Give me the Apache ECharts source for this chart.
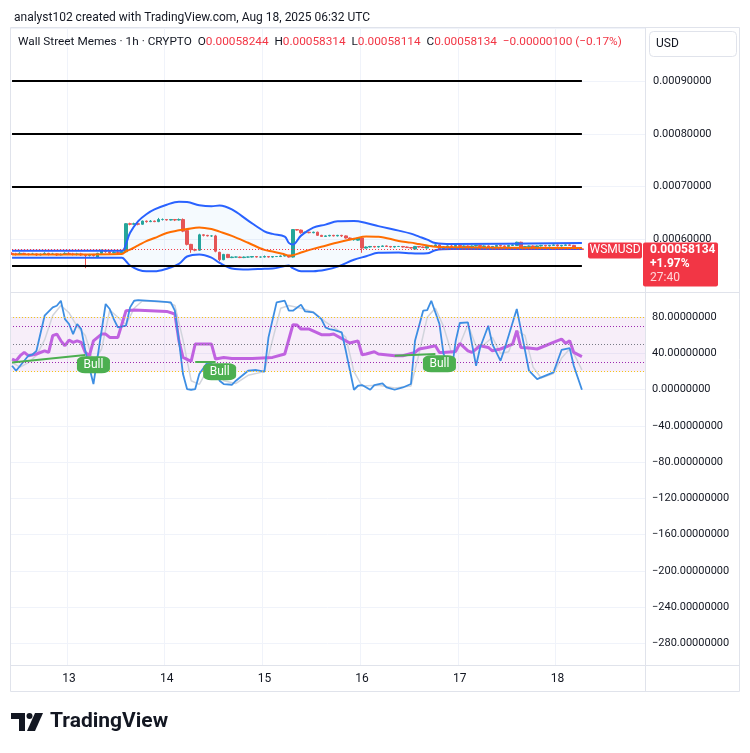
<!DOCTYPE html>
<html>
<head>
<meta charset="utf-8" />
<title>WSMUSD 1h</title>
<style>
  html, body { margin: 0; padding: 0; background: #fff; }
  #chartBox { width: 750px; height: 753px; }
</style>
</head>
<body>
<div id="chartBox"></div>
<script src="https://cdn.jsdelivr.net/npm/echarts@6/dist/echarts.min.js"></script>
<script>
// hourly bars, first bar 2025-08-12 10:00 UTC
var startTime = Date.UTC(2025, 7, 12, 10);
var emptySlots = 15;          // empty bars on the right side of the chart
var PRICE_UNIT = 1e-6;        // prices below are in micro USD

// [open, close, low, high]
var candles = [
  [574,573,571,576],[573,572,570,575],[572,574,571,576],[574,573,571,575],[573,572,570,574],
  [572,573,571,575],[573,571,569,574],[571,572,570,574],[572,574,571,576],[574,572,570,575],
  [572,573,571,575],[573,571,569,574],[571,572,570,574],[572,574,571,576],[574,573,571,576],
  [573,572,570,575],[572,573,570,575],[573,571,569,575],[571,570,546,573],[570,571,568,573],
  [571,570,568,573],[566,574,565,575],[574,580,573,581],[580,577,575,582],[577,575,573,579],
  [575,576,574,578],[576,575,573,578],[575,577,573,578],[577,630,576,631],[630,629,627,632],
  [629,630,628,632],[630,629,627,631],[629,635,628,636],[635,634,632,636],[634,635,633,637],
  [635,634,633,636],[634,638,633,641],[638,638,636,640],[638,637,636,639],[637,638,636,639],
  [638,637,635,639],[637,638,636,640],[638,616,614,640],[617,591,589,619],[591,581,575,592],
  [581,580,578,583],[580,609,579,611],[609,608,606,610],[608,607,606,609],[607,607,605,608],
  [607,578,576,609],[576,562,559,577],[562,572,561,573],[572,566,565,573],[566,567,565,568],
  [567,567,566,568],[567,566,565,568],[566,567,565,568],[567,567,566,568],[567,568,566,569],
  [568,567,566,569],[567,567,566,568],[567,568,566,570],[568,567,566,569],[567,568,566,569],
  [568,568,567,569],[568,569,567,570],[569,570,568,571],[570,567,566,571],[567,619,566,620],
  [619,618,617,620],[618,613,611,619],[613,614,612,615],[614,613,612,615],[613,614,612,615],
  [614,608,607,615],[608,606,605,609],[606,607,605,608],[607,608,606,609],[608,607,606,609],
  [607,608,606,609],[608,607,605,609],[607,603,602,608],[603,600,599,604],[600,600,598,601],
  [599,603,598,604],[603,584,575,604],[584,586,583,587],[586,587,585,588],[587,586,585,588],
  [586,587,585,588],[587,588,586,589],[588,587,586,589],[587,586,585,588],[586,587,585,588],
  [587,587,586,588],[587,586,585,588],[586,585,584,587],[585,584,583,586],[582,587,581,588],
  [587,586,585,588],[586,585,584,587],[584,587,583,588],[587,588,586,589],[588,590,587,591],
  [590,583,582,591],[583,586,582,587],[586,588,585,589],[588,587,586,590],[587,589,586,590],
  [589,587,586,590],[587,588,586,589],[588,586,585,589],[586,588,585,589],[588,589,587,590],
  [589,587,586,590],[587,588,586,589],[588,586,585,589],[586,587,585,588],[587,589,586,590],
  [589,588,587,590],[588,587,586,589],[587,589,586,590],[589,590,588,591],[589,595,588,596],
  [595,584,583,596],[584,587,583,588],[587,588,586,589],[588,586,585,589],[586,588,585,589],
  [588,589,587,590],[589,588,587,590],[588,589,587,590],[589,590,588,591],[590,588,587,591],
  [588,589,587,590],[589,590,588,591],[590,589,588,591],[589,583,582,590],[583,582.34,581,584],
  [582.44,581.34,581.14,583.14]
];

// horizontal levels drawn on the price pane
var levels = [900, 800, 700, 550];

// Bollinger bands (bar index -> price)
var bbIdx   = [0,   27,  28,  29,  31,  33,  35,  38,  41,    43,  46,  49,  51,    54,  58,  62,    64,    67,    68,    69,    71,    74,    77,    80,    84,  87,    90,    95,  98,    100,   102, 104,   108,   140];
var bbUpper = [579, 579, 592, 613, 635, 648, 657, 666, 671.5, 671, 665, 663, 664.5, 657, 636, 615.7, 610.8, 605.7, 593.8, 590.6, 607.5, 622.6, 628.3, 634.5, 635, 631.5, 625.5, 617, 611.3, 605.7, 600, 593.4, 591.5, 593.4];
var bbMid   = [571.7, 573, 578, 581, 589, 597, 603, 612.6, 617.5, 620, 623, 620, 615, 607, 594, 580.5, 577.5, 572, 570, 570.5, 575.5, 582.5, 588.5, 594.5, 601.5, 606, 605.5, 597.5, 594.3, 591.5, 589, 586.5, 585.5, 584];
var bbLower = [565.5, 565.5, 559, 551, 543, 540, 540, 545, 554, 568, 572, 566, 556, 545.5, 543.4, 545, 545.3, 550, 550.9, 546, 540.2, 540.2, 543, 549, 562, 568.5, 575, 575.5, 574, 573.6, 574, 580, 582, 582];

// oscillator pane: [bar index, value]
var rsi = [[0,33.9],[1,32],[2,37.6],[3,41.2],[4,37.6],[6,39.5],[8,43],[9,41.2],[10,59.7],[11,61.5],
  [12,54],[13,48.6],[14,54.9],[15,52.3],[16,54],[17,52.3],[18,41.2],[19,37.6],[20,54],[22,61.5],
  [23,61.5],[24,57.8],[26,57.8],[28,87.3],[30,88],[34,87.3],[38,86.5],[40,83.6],[41,54],[42,35.7],
  [44,31.3],[45,50.5],[49,50.5],[50,33.9],[52,35.7],[54,34.6],[59,34.6],[64,35.7],[67,39.5],[69,71.8],
  [70,71.5],[71,67],[73,67],[76,60.8],[78,60.8],[79,61.5],[82,54],[83,51.6],[85,54],[86,38.7],
  [87,39.5],[89,42],[90,39.5],[94,37.6],[96,37.6],[99,41.2],[100,45],[102,46.7],[104,48.6],[105,41.2],
  [106,41.2],[109,42.3],[110,51.2],[112,43],[113,41.2],[115,48.6],[117,46.7],[118,43],[120,45],[122,48.6],
  [123,50.5],[124,65.2],[125,46.7],[127,46],[129,45],[131,48.6],[133,52.3],[135,56],[136,51.2],[137,54],
  [138,41.2],[140,36.5]];
var stochK = [[0,26.5],[1,21],[2,26.5],[4,37.6],[5,38.7],[6,43],[8,81.8],[10,91],[11,92.8],[12,98.3],
  [13,78],[14,72.6],[15,61.5],[16,72.6],[17,67],[18,43],[19,24.6],[20,6.3],[21,35.7],[23,94.7],
  [24,89.2],[25,78],[26,68.8],[28,70.7],[29,91],[30,98.3],[31,99],[36,97.6],[39,96.5],[40,87.3],
  [41,54.1],[42,17.3],[43,0.8],[44,0],[45,0.8],[46,17.3],[48,30.2],[49,28.4],[50,20],[51,10],
  [52,6.3],[54,5.5],[55,10],[58,21],[60,21.8],[62,19.9],[63,57.8],[65,96.5],[67,98.3],[68,87.3],
  [69,87.3],[71,94],[72,86.5],[74,85.4],[76,78],[77,68.8],[78,67],[79,66],[81,63.3],[82,43],
  [84,0],[85,4.4],[86,5.2],[88,0],[89,5.2],[91,7],[92,2.5],[94,0],[96,2.5],[98,6.3],
  [99,54],[101,87.3],[102,88],[103,98.3],[105,72.6],[106,39.5],[108,21],[109,54],[110,73.7],[112,74.4],
  [114,26.5],[115,46.7],[117,70.7],[118,50.5],[120,32],[121,45],[124,89.2],[125,67],[127,21],[129,11.8],
  [130,13.6],[133,19.1],[135,43.9],[137,46],[138,26.5],[140,0]];
var stochD = [[0,30],[2,25],[4,30],[6,38],[8,55],[10,82],[12,93],[14,85],[16,70],[18,60],
  [20,30],[22,45],[24,88],[26,80],[28,72],[30,90],[32,98],[38,97],[40,93],[42,55],
  [44,10],[46,6],[48,22],[50,25],[52,10],[55,7],[58,16],[62,20],[64,55],[66,90],
  [68,93],[71,90],[74,86],[77,75],[80,66],[82,58],[84,20],[86,4],[90,5],[94,2],
  [98,4],[100,40],[102,80],[104,90],[106,70],[108,40],[110,50],[112,72],[114,48],[116,50],
  [118,58],[120,40],[122,42],[124,65],[126,60],[128,25],[130,13],[133,18],[135,35],[137,45],
  [138,40],[140,22]];
var bullLines = [[[0, 30.2], [18, 38.3]], [[45, 31], [50, 31]], [[94, 37.6], [104, 39.5]]];
var bullMarks = [[20, 27.6], [51, 19.9], [105, 28.7]];
var oscTicks = [80, 40, 0, -40, -80, -120, -160, -200, -240, -280];
var oscBands = { upper: 80, lower: 20, rsiUpper: 70, rsiLower: 30, mid: 50 };

// -------------------------------------------------------------------
var font = 'Roboto, "Noto Sans", sans-serif';
var txt = '#131722', gridCol = '#f0f3fa', frameCol = '#e0e3eb';
var upCol = '#26a69a', downCol = '#ef5350', tvRed = '#f23645';

function pad(n) { return (n < 10 ? '0' : '') + n; }
var hours = [];
for (var i = 0; i < candles.length + emptySlots; i++) {
  var d = new Date(startTime + i * 3600e3);
  hours.push(d.getUTCFullYear() + '-' + pad(d.getUTCMonth() + 1) + '-' + pad(d.getUTCDate()) + ' ' + pad(d.getUTCHours()) + ':00');
}
function isMidnight(i, v) { return v.slice(11, 13) === '00'; }
function p8(v) { return (v * PRICE_UNIT).toFixed(8); }
function minus(s) { return s.replace('-', '\u2212'); }

var bbPairs = function (arr) { return bbIdx.map(function (x, i) { return [x, arr[i]]; }); };
var bbWidth = bbIdx.map(function (x, i) { return [x, bbUpper[i] - bbLower[i]]; });

var last = candles[candles.length - 1], prev = candles[candles.length - 2];

function levelLines() {
  var out = levels.map(function (v) {
    return [{ coord: [0, v] }, { coord: [candles.length - 1, v], lineStyle: { color: '#000', width: 2, type: 'solid' } }];
  });
  out.push([{ coord: [0, last[1]] }, { coord: [candles.length - 1, last[1]], lineStyle: { color: tvRed, width: 1, type: [1, 2] } }]);
  return out;
}

function oscLine(v, color) {
  return { yAxis: v, lineStyle: { color: color, width: 1, type: [1, 2] } };
}

var chart = echarts.init(document.getElementById('chartBox'));
var option = {
  backgroundColor: '#fff',
  animation: false,
  title: {
    text: 'analyst102 created with TradingView.com, Aug 18, 2025 06:32 UTC',
    left: 9, top: 7,
    textStyle: { fontSize: 12, fontWeight: 'normal', color: txt, fontFamily: font }
  },
  grid: [
    { left: 10, right: 105, top: 28, height: 264.5 },
    { left: 10, right: 105, top: 292.5, height: 372.5 }
  ],
  xAxis: [{
    type: 'category', gridIndex: 0, data: hours, boundaryGap: true,
    axisLine: { show: false }, axisTick: { show: false }, axisLabel: { show: false },
    splitLine: { show: true, interval: isMidnight, lineStyle: { color: gridCol } }
  }, {
    type: 'category', gridIndex: 1, data: hours, boundaryGap: true,
    axisLine: { show: false }, axisTick: { show: false },
    axisLabel: {
      interval: isMidnight, margin: 8, color: txt, fontSize: 12, fontFamily: font,
      formatter: function (v) { return String(+v.slice(8, 10)); }
    },
    splitLine: { show: true, interval: isMidnight, lineStyle: { color: gridCol } }
  }],
  yAxis: [{
    type: 'value', gridIndex: 0, position: 'right', min: 500, max: 1000, interval: 100,
    axisLine: { show: false }, axisTick: { show: false },
    axisLabel: {
      margin: 8, color: txt, fontSize: 11, fontFamily: font,
      formatter: function (v) { return (v === 500 || v === 1000) ? '' : p8(v); }
    },
    splitLine: { lineStyle: { color: gridCol } }
  }, {
    type: 'value', gridIndex: 1, position: 'right', min: -304, max: 107.4,
    axisLine: { show: false },
    axisTick: { show: false, customValues: oscTicks },
    axisLabel: {
      customValues: oscTicks, margin: 7, color: txt, fontSize: 11, fontFamily: font,
      formatter: function (v) { return minus(v.toFixed(8)); }
    },
    splitLine: { lineStyle: { color: gridCol } }
  }],
  series: [{
    name: 'bbBase', type: 'line', data: bbPairs(bbLower), stack: 'bb', smooth: 0.35,
    symbol: 'none', lineStyle: { opacity: 0 }, silent: true
  }, {
    name: 'bbFill', type: 'line', data: bbWidth, stack: 'bb', smooth: 0.35,
    symbol: 'none', lineStyle: { opacity: 0 }, areaStyle: { color: 'rgba(33,150,243,0.06)' }, silent: true
  }, {
    name: 'upper', type: 'line', data: bbPairs(bbUpper), smooth: 0.35, symbol: 'none',
    lineStyle: { color: '#2962ff', width: 2 }, silent: true
  }, {
    name: 'lower', type: 'line', data: bbPairs(bbLower), smooth: 0.35, symbol: 'none',
    lineStyle: { color: '#2962ff', width: 2 }, silent: true
  }, {
    name: 'basis', type: 'line', data: bbPairs(bbMid), smooth: 0.35, symbol: 'none',
    lineStyle: { color: '#ff6d00', width: 2 }, silent: true
  }, {
    name: 'WSMUSD', type: 'candlestick', data: candles, barWidth: 3,
    itemStyle: { color: upCol, color0: downCol, borderColor: upCol, borderColor0: downCol, borderWidth: 1 },
    markLine: { silent: true, symbol: 'none', label: { show: false }, data: levelLines() }
  }, {
    name: 'RSI', type: 'line', xAxisIndex: 1, yAxisIndex: 1, data: rsi, symbol: 'none',
    lineStyle: { color: '#c062e0', width: 3 }, z: 3,
    markArea: {
      silent: true, itemStyle: { color: 'rgba(156,39,176,0.08)' },
      data: [[{ yAxis: oscBands.lower }, { yAxis: oscBands.upper }]]
    },
    markLine: {
      silent: true, symbol: 'none', label: { show: false },
      data: [
        oscLine(oscBands.upper, '#f5c518'), oscLine(oscBands.lower, '#f5c518'),
        oscLine(oscBands.rsiUpper, '#9c27b0'), oscLine(oscBands.rsiLower, '#9c27b0'),
        oscLine(oscBands.mid, '#787b86')
      ].concat(bullLines.map(function (s) {
        return [{ coord: s[0] }, { coord: s[1], lineStyle: { color: '#4caf50', width: 2, type: 'solid' } }];
      }))
    }
  }, {
    name: 'D', type: 'line', xAxisIndex: 1, yAxisIndex: 1, data: stochD, symbol: 'none',
    lineStyle: { color: '#d1d4dc', width: 1.5 }, z: 2
  }, {
    name: 'K', type: 'line', xAxisIndex: 1, yAxisIndex: 1, data: stochK, symbol: 'none',
    lineStyle: { color: '#3d8ee3', width: 1.8 }, z: 4
  }, {
    name: 'bull', type: 'scatter', xAxisIndex: 1, yAxisIndex: 1, data: bullMarks,
    symbol: 'roundRect', symbolSize: [33, 17], z: 6,
    itemStyle: { color: '#4caf50', opacity: 1 },
    label: { show: true, position: 'inside', formatter: 'Bull', color: '#fff', fontSize: 12, fontFamily: font }
  }]
};
chart.setOption(option);

// overlays: frame, legend, price tags, logo
var tagY = chart.convertToPixel({ yAxisIndex: 0 }, last[1]);
var chg = last[1] - prev[1];
var chgPct = chg / prev[1] * 100;
var legendText = '{t|Wall Street Memes · 1h · CRYPTO}  '
  + '{t|O}{v|' + p8(last[0]) + '}  {t|H}{v|' + p8(last[3]) + '}  '
  + '{t|L}{v|' + p8(last[2]) + '}  {t|C}{v|' + p8(last[1]) + '}  '
  + '{v|' + minus((chg * PRICE_UNIT).toFixed(8)) + ' (' + minus(chgPct.toFixed(2)) + '%)}';

chart.setOption({
  graphic: [
    { type: 'rect', z: 50, silent: true, shape: { x: 10.5, y: 27.5, width: 729, height: 664 }, style: { fill: 'none', stroke: frameCol } },
    { type: 'line', z: 50, silent: true, shape: { x1: 645.5, y1: 27.5, x2: 645.5, y2: 691.5 }, style: { stroke: frameCol } },
    { type: 'line', z: 50, silent: true, shape: { x1: 10, y1: 292.5, x2: 740, y2: 292.5 }, style: { stroke: frameCol } },
    { type: 'line', z: 50, silent: true, shape: { x1: 10, y1: 665.5, x2: 740, y2: 665.5 }, style: { stroke: frameCol } },
    { type: 'rect', z: 50, silent: true, shape: { x: 649.5, y: 31.5, width: 87, height: 25, r: 4 }, style: { fill: '#fff', stroke: frameCol } },
    { type: 'text', z: 51, x: 656, y: 44, style: { text: 'USD', fill: txt, font: '12px ' + font, verticalAlign: 'middle' } },
    {
      type: 'text', z: 51, x: 18, y: 42,
      style: {
        text: legendText, verticalAlign: 'middle', font: '11.8px ' + font,
        rich: { t: { fill: txt, fontSize: 11.8, fontFamily: font }, v: { fill: tvRed, fontSize: 11.8, fontFamily: font } }
      }
    },
    { type: 'rect', z: 60, shape: { x: 588, y: tagY - 7, width: 54, height: 16, r: 2 }, style: { fill: tvRed } },
    { type: 'text', z: 61, x: 615, y: tagY + 1, style: { text: 'WSMUSD', fill: '#fff', font: '12px ' + font, align: 'center', verticalAlign: 'middle' } },
    { type: 'rect', z: 60, shape: { x: 643, y: tagY - 7, width: 75, height: 44, r: 2 }, style: { fill: tvRed } },
    { type: 'text', z: 61, x: 650, y: tagY + 1, style: { text: p8(last[1]), fill: '#fff', font: 'bold 12px ' + font, verticalAlign: 'middle' } },
    { type: 'text', z: 61, x: 650, y: tagY + 15, style: { text: '+1.97%', fill: '#fff', font: 'bold 12px ' + font, verticalAlign: 'middle' } },
    { type: 'text', z: 61, x: 650, y: tagY + 29, style: { text: '27:40', fill: '#ffd6d9', font: '12px ' + font, verticalAlign: 'middle' } },
    // TradingView logo
    { type: 'polygon', shape: { points: [[11, 713], [25, 713], [25, 731], [19, 731], [19, 719], [11, 719]] }, style: { fill: '#131722' } },
    { type: 'circle', shape: { cx: 29.5, cy: 716, r: 3 }, style: { fill: '#131722' } },
    { type: 'polygon', shape: { points: [[35, 713], [43, 713], [35, 731], [27, 731]] }, style: { fill: '#131722' } },
    { type: 'text', x: 50, y: 722, style: { text: 'TradingView', fill: '#131722', font: 'bold 21px ' + font, verticalAlign: 'middle' } }
  ]
});
</script>
</body>
</html>
